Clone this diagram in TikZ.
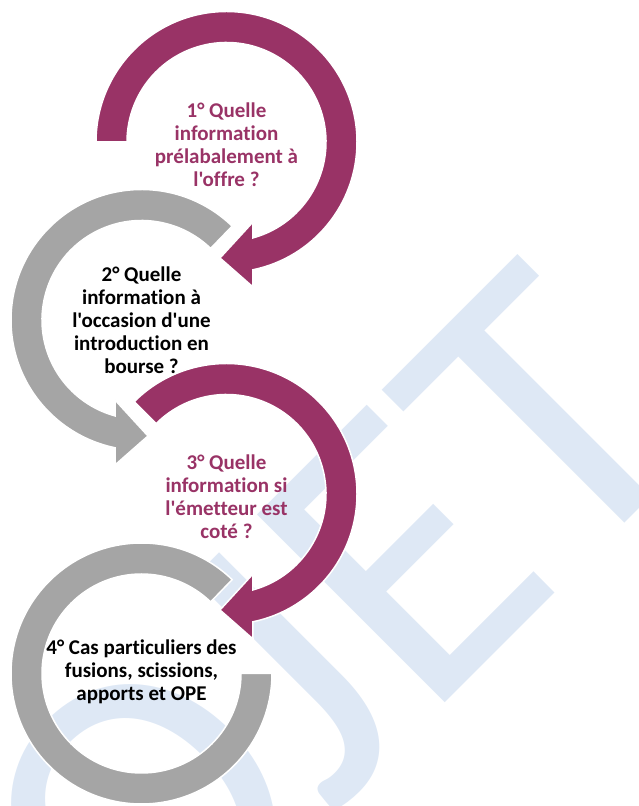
\documentclass[tikz,border=0pt]{standalone}
\usepackage{fontspec}
\newfontfamily\carlito{Carlito}[Ligatures=NoCommon]
\definecolor{berry}{RGB}{153,51,102}
\definecolor{stone}{RGB}{165,165,165}
\definecolor{wash}{RGB}{222,232,245}

\tikzset{
  purplearc/.style={fill=berry,draw=white,line width=1.5pt},
  grayarc/.style={fill=stone,draw=white,line width=1.5pt},
  purplelabel/.style={text=berry,align=center,inner sep=0pt,
    font=\carlito\bfseries\fontsize{21}{23}\selectfont},
  blacklabel/.style={text=black,align=center,inner sep=0pt,
    font=\carlito\bfseries\fontsize{21}{23}\selectfont},
  watermark/.style={text=wash,inner sep=0pt,rotate=45,anchor=base east,
    font=\carlito\fontsize{414}{414}\selectfont}
}

\begin{document}
\begin{tikzpicture}[x=1pt,y=1pt]
    \useasboundingbox (0,0) rectangle (639,806);
    % watermark behind the arrows
    \begin{scope}
        \clip (0,0) rectangle (639,806);
        \node[watermark] (projet) at (709.4,367.4) {PROJET};
    \end{scope}
    % 1: purple, clockwise
    \begin{scope}[shift={(226.5,664)}]
        \filldraw[purplearc] (180:130.5) arc[start angle=180,end angle=-78.3,radius=130.5]
            -- (26.5,-145) -- (-6.5,-116) -- (26.5,-80)
            -- (-74.6:99.5) arc[start angle=-74.6,end angle=180,radius=99.5] -- cycle;
    \end{scope}
    % 2: gray, counterclockwise
    \begin{scope}[shift={(141.5,486)},xscale=-1]
        \filldraw[grayarc] (134:130.5) arc[start angle=134,end angle=-78.3,radius=130.5]
            -- (26.5,-145) -- (-6.5,-116) -- (26.5,-80)
            -- (-74.6:99.5) arc[start angle=-74.6,end angle=134,radius=99.5] -- cycle;
    \end{scope}
    % 3: purple, clockwise
    \begin{scope}[shift={(226.5,312)}]
        \filldraw[purplearc] (135:130.5) arc[start angle=135,end angle=-78.3,radius=130.5]
            -- (26.5,-145) -- (-6.5,-116) -- (26.5,-80)
            -- (-74.6:99.5) arc[start angle=-74.6,end angle=135,radius=99.5] -- cycle;
    \end{scope}
    % 4: gray, no head
    \begin{scope}[shift={(141.5,132.5)},xscale=-1]
        \filldraw[grayarc] (134:130.5) arc[start angle=134,end angle=-180,radius=130.5]
            -- (-180:99.5) arc[start angle=-180,end angle=134,radius=99.5] -- cycle;
    \end{scope}
    \node[purplelabel] (q1) at (226.5,661) {1° Quelle\\information\\prélabalement à\\l'offre ?};
    \node[blacklabel] (q2) at (141.5,486) {2° Quelle\\information à\\l'occasion d'une\\introduction en\\bourse ?};
    \node[purplelabel] (q3) at (226.5,309.5) {3° Quelle\\information si\\l'émetteur est\\coté ?};
    \node[blacklabel] (q4) at (141.5,134) {4° Cas particuliers des\\fusions, scissions,\\apports et OPE};
\end{tikzpicture}
\end{document}
